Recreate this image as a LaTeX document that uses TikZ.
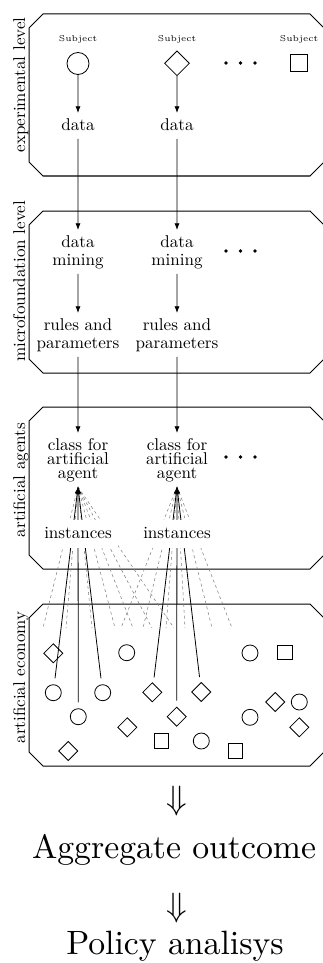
\documentclass[tikz,border=0pt]{standalone}
\usetikzlibrary{shapes.geometric,arrows.meta}
\begin{document}
\begin{tikzpicture}[x=0.75pt,y=-0.75pt,
  frame/.style={line width=0.75pt, line join=miter},
  txt/.style={font=\fontsize{10}{10.55}\selectfont, scale=1.28, inner sep=2.93pt, text depth=1.95pt, align=center},
  subj/.style={font=\fontsize{5}{6}\selectfont, scale=1.28, inner sep=0pt, anchor=base},
  lvl/.style={font=\fontsize{10}{12}\selectfont, scale=1.28, rotate=90, anchor=base, inner sep=0pt},
  big/.style={font=\fontsize{10}{12}\selectfont, scale=2.53, inner sep=0pt},
  dotmark/.style={circle, fill=black, minimum size=2.9pt, inner sep=0pt},
  shp/.style={draw, line width=0.6pt, inner sep=0pt},
  bigcirc/.style={shp, circle, minimum size=16.5pt},
  bigdiam/.style={shp, diamond, minimum size=18.75pt},
  bigsq/.style={shp, rectangle, minimum size=13pt},
  circ/.style={shp, circle, minimum size=12pt},
  diam/.style={shp, diamond, minimum size=14.5pt},
  sq/.style={shp, rectangle, minimum size=10.7pt},
  flow/.style={line width=0.6pt, -{Latex[length=5pt,width=3.8pt]}},
  link/.style={flow, shorten <=4.5pt},
  ghost/.style={line width=0.4pt, gray, dash pattern=on 2.2pt off 2.2pt}]

\useasboundingbox (0,0) rectangle (323,963);

% the four level frames with cut corners
\foreach \t in {14,211,407,604}
  \draw[frame] (43,\t) -- (310,\t) -- (324,{\t+14}) -- (324,{\t+148})
    -- (310,{\t+162}) -- (43,{\t+162}) -- (29,{\t+148}) -- (29,{\t+14}) -- cycle;

% level names
\node[lvl] (lv1) at (25,85)    {experimental level};
\node[lvl] (lv2) at (25,281.5) {microfoundation level};
\node[lvl] (lv3) at (25,480)   {artificial agents};
\node[lvl] (lv4) at (25,677.5) {artificial economy};

% experimental level
\node[subj] (t1) at (78,41.5)  {Subject};
\node[subj] (t2) at (177,41.5) {Subject};
\node[subj] (t3) at (299,41.5) {Subject};
\node[bigcirc] (s1) at (78,63.5) {};
\node[bigdiam] (s2) at (177,63.3) {};
\node[bigsq]   (s3) at (299,63) {};
\node[dotmark] (pa1) at (226,63) {};
\node[dotmark] (pa2) at (240.5,63) {};
\node[dotmark] (pa3) at (255,63) {};
\node[txt, anchor=north] (d1) at (78,113)  {data};
\node[txt, anchor=north] (d2) at (177,113) {data};

% microfoundation level
\node[txt, anchor=north] (m1) at (78,230)  {data\\mining};
\node[txt, anchor=north] (m2) at (177,230) {data\\mining};
\node[dotmark] (pb1) at (226,251) {};
\node[dotmark] (pb2) at (240.5,251) {};
\node[dotmark] (pb3) at (255,251) {};
\node[txt, anchor=north] (r1) at (78,313)  {rules and\\parameters};
\node[txt, anchor=north] (r2) at (177,313) {rules and\\parameters};

% artificial agents
\node[txt, anchor=north] (c1) at (78,433)  {class for\\[-2.4pt]artificial\\[-2.4pt]agent};
\node[txt, anchor=north] (c2) at (177,433) {class for\\[-2.4pt]artificial\\[-2.4pt]agent};
\node[dotmark] (pc1) at (226,457) {};
\node[dotmark] (pc2) at (240.5,457) {};
\node[dotmark] (pc3) at (255,457) {};

% artificial economy
\node[diam] (e1)  at (53.3,653.3) {};
\node[circ] (e2)  at (126.7,652.7) {};
\node[circ] (e3)  at (250,653) {};
\node[sq]   (e4)  at (285,652.7) {};
\node[circ] (e5)  at (53.3,692.7) {};
\node[circ] (e6)  at (102.7,692.7) {};
\node[diam] (e7)  at (152.3,692.3) {};
\node[diam] (e8)  at (201.3,692) {};
\node[diam] (e9)  at (275.3,702) {};
\node[circ] (e10) at (299.3,702) {};
\node[circ] (e11) at (78.3,716.7) {};
\node[diam] (e12) at (176.7,716.7) {};
\node[circ] (e13) at (250,717.3) {};
\node[diam] (e14) at (127.3,727.3) {};
\node[diam] (e15) at (299.3,727.3) {};
\node[sq]   (e16) at (161.7,741) {};
\node[circ] (e17) at (201.3,741) {};
\node[diam] (e18) at (68.3,751) {};
\node[sq]   (e19) at (235.7,751) {};

% vertical flow
\draw[flow] (s1) -- (d1);
\draw[flow] (s2) -- (d2);
\draw[flow] (d1) -- (m1);
\draw[flow] (d2) -- (m2);
\draw[flow] (m1) -- (r1);
\draw[flow] (m2) -- (r2);
\draw[flow] (r1) -- (c1);
\draw[flow] (r2) -- (c2);

% other instances of each class, fading out
\foreach \x [count=\i] in {43,66,92,115,133,152,174} {
  \coordinate (ga\i) at (\x,628);
  \draw[ghost] (c1.south) -- (ga\i);
}
\foreach \x [count=\i] in {121,143,166,185,212,232} {
  \coordinate (gb\i) at (\x,628);
  \draw[ghost] (c2.south) -- (gb\i);
}

% instances placed in the economy
\draw[link] (e5)  -- (c1.south);
\draw[link] (e11) -- (c1.south);
\draw[link] (e6)  -- (c1.south);
\draw[link] (e7)  -- (c2.south);
\draw[link] (e12) -- (c2.south);
\draw[link] (e8)  -- (c2.south);

\node[txt, anchor=base, fill=white, inner sep=3.9pt] (i1) at (78,538.3)  {instances};
\node[txt, anchor=base, fill=white, inner sep=3.9pt] (i2) at (177,538.3) {instances};

% results
\node[big] (ar1) at (177,801) {$\Downarrow$};
\node[big, anchor=base] (agg) at (174,858) {Aggregate outcome};
\node[big] (ar2) at (177,908) {$\Downarrow$};
\node[big, anchor=base] (pol) at (175,954) {Policy analisys};
\end{tikzpicture}
\end{document}
